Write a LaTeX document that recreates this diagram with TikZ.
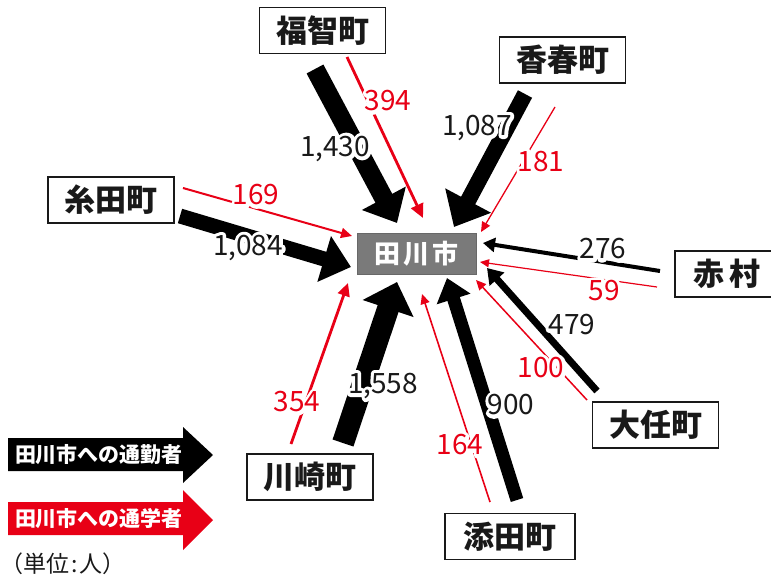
\documentclass[tikz,border=0pt]{standalone}
\usepackage{fontspec}
\setmainfont{Noto Sans CJK JP}
\usetikzlibrary{arrows.meta}
\definecolor{jred}{RGB}{232,0,22}
\definecolor{cgray}{RGB}{122,122,122}
\definecolor{ink}{RGB}{25,25,25}
\tikzset{
  town/.style={draw=ink, line width=1.6pt, fill=white, minimum width=126pt, minimum height=46pt, inner sep=0pt, font=\fontsize{31}{31}\selectfont\bfseries, text=ink},
  city/.style={fill=cgray, draw=cgray!85!black, line width=0.8pt, minimum width=119pt, minimum height=41pt, inner sep=0pt, text=white, font=\fontsize{26}{26}\selectfont\bfseries},
  numlab/.style={inner sep=0pt, font=\fontsize{28}{28}\selectfont},
  legtext/.style={inner sep=0pt, text=white, font=\fontsize{21}{21}\selectfont\bfseries},
  unitlab/.style={inner sep=0pt, text=ink, font=\fontsize{23}{23}\selectfont},
  com/.style={draw=black},
  stu/.style={draw=jred},
}
% label with a white halo: a stroked white copy underneath, then the coloured text
\newcommand\numlabel[4]{%
  \node[numlab,text=white] (#1h) at (#2) {\special{pdf:literal direct 1 Tr 7 w 1 j 1 J 1 1 1 RG}#4\special{pdf:literal direct 0 Tr}};
  \node[numlab,text=#3] (#1) at (#2) {#4};
}
\begin{document}
\begin{tikzpicture}[x=1pt,y=-1pt]
\useasboundingbox (0,0) rectangle (771,576);
% towns
\node[town] (fukuchi) at (322.5,30.5) {福智町};
\node[town] (kawara) at (562.5,60) {香春町};
\node[town] (itoda) at (111,200) {糸田町};
\node[town, minimum width=104pt] (akamura) at (727,274) {赤\hspace{6pt}村};
\node[town] (oto) at (655.5,425) {大任町};
\node[town] (kawasaki) at (310,477) {川崎町};
\node[town, minimum width=130pt] (soeda) at (510,536.5) {添田町};
\node[city] (tagawa) at (416.5,253.5) {田\hspace{3pt}川\hspace{3pt}市};
% endpoints
\coordinate (fkT) at (315,69);  \coordinate (fkH) at (397,223);
\coordinate (fkrT) at (347,57); \coordinate (fkrH) at (423,218);
\coordinate (kwT) at (525,94);  \coordinate (kwH) at (454,227);
\coordinate (kwrT) at (555,107); \coordinate (kwrH) at (481,232);
\coordinate (itT) at (180,216); \coordinate (itH) at (351,267);
\coordinate (itrT) at (183,188); \coordinate (itrH) at (352,236);
\coordinate (akT) at (660,271); \coordinate (akH) at (483,243);
\coordinate (akrT) at (657,287); \coordinate (akrH) at (480,262);
\coordinate (otT) at (597,391); \coordinate (otH) at (487,268);
\coordinate (otrT) at (587,400); \coordinate (otrH) at (476,280);
\coordinate (ksT) at (343,443); \coordinate (ksH) at (397,282);
\coordinate (ksrT) at (291,444); \coordinate (ksrH) at (348,283);
\coordinate (sdT) at (517,500); \coordinate (sdH) at (447,278);
\coordinate (sdrT) at (490,502); \coordinate (sdrH) at (422,294);
% commuter arrows
\draw[com, line width=19pt, -{Triangle[length=28pt,width=48pt]}] (fkT) -- (fkH);
\draw[com, line width=16pt, -{Triangle[length=30pt,width=50pt]}] (kwT) -- (kwH);
\draw[com, line width=15pt, -{Triangle[length=28pt,width=46pt]}] (itT) -- (itH);
\draw[com, line width=4pt, -{Triangle[length=12pt,width=14pt]}] (akT) -- (akH);
\draw[com, line width=7pt, -{Triangle[length=15pt,width=19pt]}] (otT) -- (otH);
\draw[com, line width=22pt, -{Triangle[length=28pt,width=52pt]}] (ksT) -- (ksH);
\draw[com, line width=13pt, -{Triangle[length=22pt,width=34pt]}] (sdT) -- (sdH);
% student arrows
\draw[stu, line width=2.8pt, -{Triangle[length=14pt,width=13pt]}] (fkrT) -- (fkrH);
\draw[stu, line width=1.3pt, -{Triangle[length=10pt,width=9pt]}] (kwrT) -- (kwrH);
\draw[stu, line width=2pt, -{Triangle[length=11pt,width=10pt]}] (itrT) -- (itrH);
\draw[stu, line width=1.2pt, -{Triangle[length=9pt,width=8pt]}] (akrT) -- (akrH);
\draw[stu, line width=1.5pt, -{Triangle[length=10pt,width=9pt]}] (otrT) -- (otrH);
\draw[stu, line width=2.8pt, -{Triangle[length=13pt,width=12pt]}] (ksrT) -- (ksrH);
\draw[stu, line width=1.6pt, -{Triangle[length=10pt,width=9pt]}] (sdrT) -- (sdrH);
% labels
\numlabel{l394}{388,101}{jred}{394}
\numlabel{l1430}{335,149}{ink}{1,430}
\numlabel{l1087}{477,128}{ink}{1,087}
\numlabel{l181}{541,162}{jred}{181}
\numlabel{l169}{256,195}{jred}{169}
\numlabel{l1084}{248,248}{ink}{1,084}
\numlabel{l276}{603,249}{ink}{276}
\numlabel{l59}{604,291}{jred}{59}
\numlabel{l479}{572,325}{ink}{479}
\numlabel{l100}{541,368}{jred}{100}
\numlabel{l900}{511,405}{ink}{900}
\numlabel{l1558}{383,386}{ink}{1,558}
\numlabel{l354}{297,402}{jred}{354}
\numlabel{l164}{460,445}{jred}{164}
% legend
\fill[black] (8,438) -- (183,438) -- (183,427) -- (213,455) -- (183,483) -- (183,471) -- (8,471) -- cycle;
\node[legtext] (legc) at (99,455) {田川市への通勤者};
\fill[jred] (8,502) -- (183,502) -- (183,490) -- (213,520) -- (183,550) -- (183,535) -- (8,535) -- cycle;
\node[legtext] (legs) at (99,519) {田川市への通学者};
\node[unitlab, anchor=west] (unit) at (0,564) {（単位\hspace{2pt}:\hspace{2pt}人）};
\end{tikzpicture}
\end{document}
